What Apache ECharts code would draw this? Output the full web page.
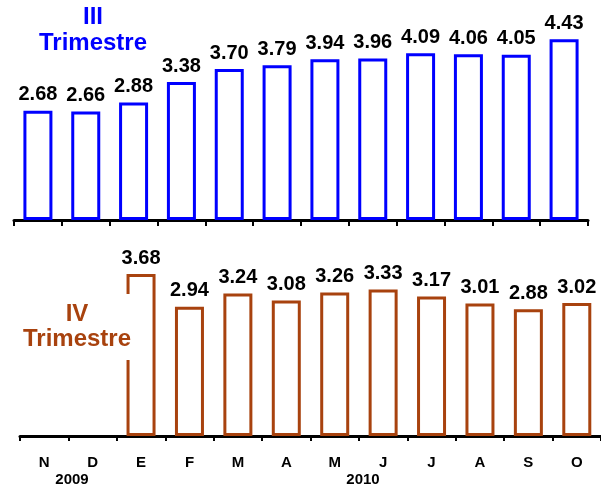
<!DOCTYPE html>
<html><head><meta charset="utf-8">
<script src="https://cdn.jsdelivr.net/npm/echarts@6/dist/echarts.min.js"></script>
<style>html,body{margin:0;padding:0;background:#fff}#c{width:601px;height:489px}</style>
</head><body><div id="c"></div>
<script>
const months = ['N','D','E','F','M','A','M','J','J','A','S','O'];
const q3Values = [2.68, 2.66, 2.88, 3.38, 3.70, 3.79, 3.94, 3.96, 4.09, 4.06, 4.05, 4.43];
const q4Values = ['-', '-', 3.68, 2.94, 3.24, 3.08, 3.26, 3.33, 3.17, 3.01, 2.88, 3.02];
const yearLabels = ['2009', '2010'];
const q3Title = 'III\nTrimestre';
const q4Title = 'IV\nTrimestre';

const FONT = '"Liberation Sans", Arial, sans-serif';
const BLUE = '#0000FF';
const BROWN = '#A8420E';

const chart = echarts.init(document.getElementById('c'), null, {renderer: 'canvas'});
const axisCommon = {
  type: 'category',
  data: months,
  axisLine: {lineStyle: {color: '#000', width: 3}},
  axisTick: {show: true, length: 5, lineStyle: {color: '#000', width: 2}},
  splitLine: {show: false}
};
const yCommon = {type: 'value', min: 0, max: 5, show: false, splitLine: {show: false}};
const labelCommon = {
  show: true, position: 'top', distance: 6,
  fontFamily: FONT, fontWeight: 'bold', fontSize: 20, color: '#000',
  formatter: p => p.value.toFixed(2)
};
chart.setOption({
  animation: false,
  grid: [
    {left: 14, right: 13, top: 16, height: 204},
    {left: 20, right: 0, top: 216, height: 220}
  ],
  xAxis: [
    Object.assign({}, axisCommon, {gridIndex: 0, axisLabel: {show: false}, axisTick: {show: true, length: 6, lineStyle: {color: '#000', width: 2}}}),
    Object.assign({}, axisCommon, {gridIndex: 1, axisLabel: {show: true, margin: 19, fontFamily: FONT, fontWeight: 'bold', fontSize: 15, color: '#000'}})
  ],
  yAxis: [
    Object.assign({}, yCommon, {gridIndex: 0}),
    Object.assign({}, yCommon, {gridIndex: 1})
  ],
  series: [
    {type: 'bar', xAxisIndex: 0, yAxisIndex: 0, data: q3Values, barWidth: 29,
     itemStyle: {color: '#fff', borderColor: BLUE, borderWidth: 3}, label: labelCommon},
    {type: 'bar', xAxisIndex: 1, yAxisIndex: 1, data: q4Values, barWidth: 29,
     itemStyle: {color: '#fff', borderColor: BROWN, borderWidth: 3}, label: labelCommon}
  ],
  graphic: [
    {type: 'text', z: 100, style: {
      text: q3Title, x: 93, y: 30, align: 'center', verticalAlign: 'middle',
      fontFamily: FONT, fontWeight: 'bold', fontSize: 24, lineHeight: 26, fill: BLUE}},
    {type: 'text', z: 100, style: {
      text: q4Title, x: 77, y: 327, align: 'center', verticalAlign: 'middle',
      fontFamily: FONT, fontWeight: 'bold', fontSize: 24, lineHeight: 25, fill: BROWN,
      backgroundColor: '#fff', padding: [8, 1, 8, 1]}},
    {type: 'text', z: 100, style: {
      text: yearLabels[0], x: 72, y: 480, align: 'center', verticalAlign: 'middle',
      fontFamily: FONT, fontWeight: 'bold', fontSize: 15, fill: '#000'}},
    {type: 'text', z: 100, style: {
      text: yearLabels[1], x: 363, y: 480, align: 'center', verticalAlign: 'middle',
      fontFamily: FONT, fontWeight: 'bold', fontSize: 15, fill: '#000'}}
  ]
});
</script></body></html>
